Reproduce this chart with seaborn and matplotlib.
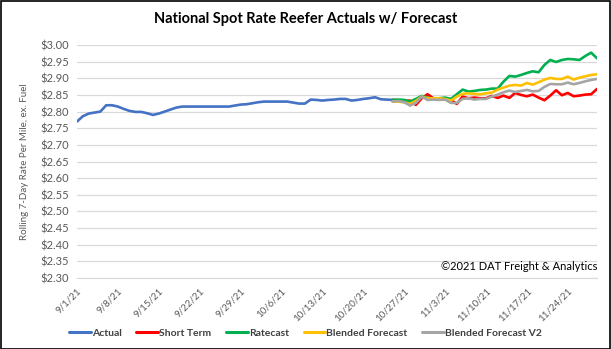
import numpy as np
import pandas as pd
import matplotlib
matplotlib.use("Agg")
import matplotlib.pyplot as plt
import matplotlib.dates as mdates
from matplotlib.lines import Line2D
import seaborn as sns

start_date = "2021-09-01"
n_days = 90
forecast_start = 54

actual = [2.770, 2.786, 2.794, 2.797, 2.800, 2.819, 2.819, 2.815, 2.808, 2.802,
          2.799, 2.799, 2.795, 2.790, 2.794, 2.800, 2.806, 2.812, 2.815, 2.815,
          2.815, 2.815, 2.815, 2.815, 2.815, 2.815, 2.815, 2.818, 2.821, 2.822,
          2.825, 2.828, 2.830, 2.830, 2.830, 2.830, 2.830, 2.827, 2.824, 2.824,
          2.836, 2.835, 2.833, 2.835, 2.836, 2.838, 2.838, 2.833, 2.835, 2.838,
          2.840, 2.843, 2.837, 2.836, 2.835]
short_term = [2.835, 2.834, 2.832, 2.833, 2.820, 2.840, 2.852, 2.840, 2.838, 2.840,
              2.835, 2.823, 2.845, 2.840, 2.842, 2.840, 2.840, 2.847, 2.841, 2.848,
              2.841, 2.856, 2.850, 2.846, 2.851, 2.842, 2.834, 2.848, 2.864, 2.849,
              2.856, 2.846, 2.848, 2.851, 2.852, 2.868]
ratecast = [2.835, 2.836, 2.835, 2.830, 2.838, 2.847, 2.842, 2.838, 2.840, 2.842,
            2.838, 2.852, 2.866, 2.860, 2.862, 2.865, 2.866, 2.869, 2.869, 2.890,
            2.907, 2.905, 2.910, 2.916, 2.921, 2.918, 2.940, 2.955, 2.949, 2.955,
            2.958, 2.957, 2.955, 2.967, 2.977, 2.960]
blended = [2.830, 2.830, 2.828, 2.823, 2.832, 2.845, 2.840, 2.840, 2.840, 2.838,
           2.833, 2.845, 2.853, 2.855, 2.853, 2.852, 2.855, 2.857, 2.866, 2.872,
           2.878, 2.880, 2.878, 2.886, 2.881, 2.888, 2.896, 2.901, 2.898, 2.898,
           2.905, 2.896, 2.902, 2.906, 2.910, 2.912]
blended_v2 = [2.830, 2.832, 2.828, 2.818, 2.826, 2.845, 2.835, 2.836, 2.835, 2.836,
              2.826, 2.826, 2.838, 2.840, 2.836, 2.838, 2.838, 2.845, 2.851, 2.858,
              2.863, 2.859, 2.862, 2.865, 2.861, 2.862, 2.874, 2.883, 2.882, 2.882,
              2.887, 2.882, 2.886, 2.891, 2.895, 2.898]

series_names = ["Actual", "Short Term", "Ratecast", "Blended Forecast", "Blended Forecast V2"]
series_colors = ["#4472C4", "#FF0000", "#00B050", "#FFC000", "#A5A5A5"]
y_ticks = [2.30, 2.35, 2.40, 2.45, 2.50, 2.55, 2.60, 2.65, 2.70, 2.75, 2.80, 2.85, 2.90, 2.95, 3.00]

dates = pd.date_range(start_date, periods=n_days)
frames = [pd.DataFrame({"date": dates[:len(actual)], "value": actual, "series": "Actual"})]
for name, vals in zip(series_names[1:], [short_term, ratecast, blended, blended_v2]):
    frames.append(pd.DataFrame({"date": dates[forecast_start:forecast_start + len(vals)],
                                "value": vals, "series": name}))
df = pd.concat(frames, ignore_index=True)

sns.set_style("white")
plt.rcParams["font.family"] = ["Lato", "DejaVu Sans"]

W, H = 611, 349
fig = plt.figure(figsize=(W / 100, H / 100), dpi=100)
ax = fig.add_axes([77 / W, 1 - 278 / H, (597 - 77) / W, (278 - 45) / H])

sns.lineplot(data=df, x="date", y="value", hue="series", hue_order=series_names,
             palette=dict(zip(series_names, series_colors)), linewidth=1.9,
             legend=False, ax=ax, zorder=3)

ax.set_xlim(dates[0], dates[-1])
ax.set_ylim(2.30, 3.00)
ax.set_yticks(y_ticks)
ax.set_yticklabels([f"${v:.2f}" for v in y_ticks], fontsize=8, color="#595959")
tick_dates = pd.date_range(start_date, "2021-11-24", freq="7D")
ax.set_xticks(tick_dates)
ax.set_xticklabels([f"{d.month}/{d.day}/{d.strftime('%y')}" for d in tick_dates],
                   rotation=45, ha="right", rotation_mode="anchor", fontsize=7, color="#595959")
ax.grid(axis="y", color="#D9D9D9", linewidth=0.9)
for s in ["top", "right", "left"]:
    ax.spines[s].set_visible(False)
ax.spines["bottom"].set_color("#D9D9D9")
ax.tick_params(axis="x", length=4, color="#D9D9D9", pad=2)
ax.tick_params(axis="y", length=0, pad=6)
ax.set_xlabel("")
ax.set_ylabel("Rolling 7-Day Rate Per Mile, ex. Fuel", fontsize=7, color="#595959", labelpad=8)

fig.text(0.5, 1 - 19 / H, "National Spot Rate Reefer Actuals w/ Forecast",
         ha="center", va="center", fontsize=10.5, fontweight="bold", color="black")
fig.text(597 / W, 1 - 267 / H, "\u00a92021 DAT Freight & Analytics",
         ha="right", va="center", fontsize=8, color="black")

handles = [Line2D([], [], color=c, linewidth=2.2) for c in series_colors]
fig.legend(handles, series_names, loc="center", bbox_to_anchor=(0.5, 1 - 333 / H),
           ncol=5, frameon=False, handlelength=2.1, handletextpad=0.1,
           columnspacing=1.4, prop={"weight": "bold", "size": 7.5})
for t in fig.legends[0].get_texts():
    t.set_color("#404040")

fig.patches.append(plt.Rectangle((0.5 / W, 0.5 / H), 1 - 1.5 / W, 1 - 1.5 / H,
                                 transform=fig.transFigure, fill=False,
                                 edgecolor="black", linewidth=1.2))
fig.savefig("out.png", dpi=100)
